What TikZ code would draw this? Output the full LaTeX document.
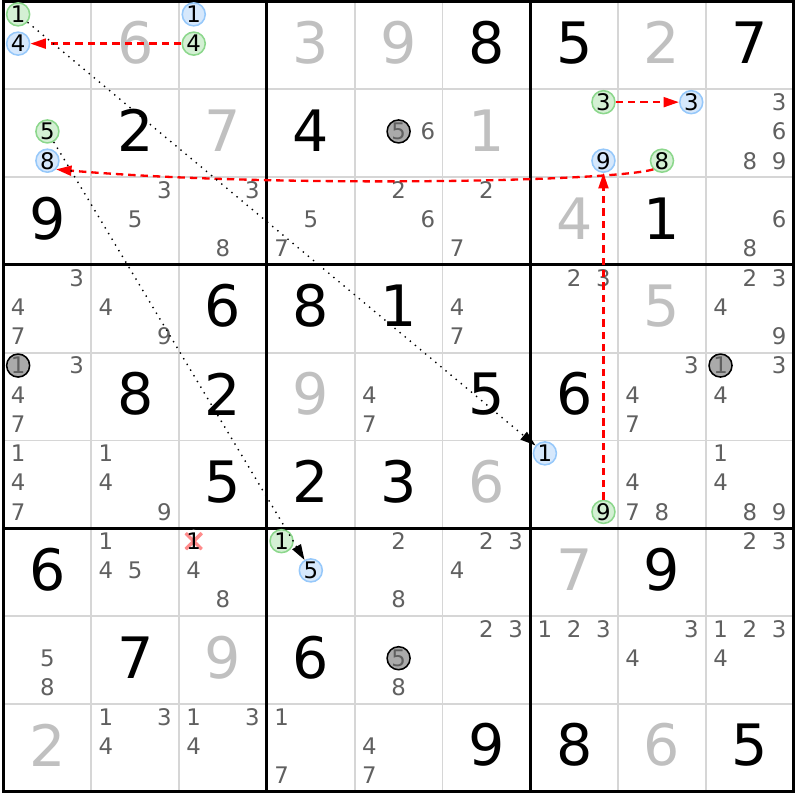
\documentclass[tikz,border=0pt]{standalone}
\usepackage{fontspec}
\setmainfont{DejaVu Sans}
\usetikzlibrary{arrows.meta}
\definecolor{thingrid}{RGB}{214,214,214}
\definecolor{solvedgray}{RGB}{192,192,192}
\definecolor{candgray}{RGB}{96,96,96}
\definecolor{linkgreen}{RGB}{140,215,140}
\definecolor{linkgreenfill}{RGB}{212,240,212}
\definecolor{linkblue}{RGB}{150,200,250}
\definecolor{linkbluefill}{RGB}{214,232,252}
\definecolor{elimfill}{RGB}{170,170,170}
\definecolor{crossred}{RGB}{255,140,140}

% candidate #4 in row #2, column #3
\newcommand{\cand}[4][]{%
  \pgfmathsetmacro{\candx}{#3-1+(2*mod(#4-1,3)+1)/6}%
  \pgfmathsetmacro{\candy}{-(#2-1)-(2*floor((#4-1)/3)+1)/6+0.02}%
  \node[cand,#1] (r#2c#3d#4) at (\candx,\candy) {#4};}

\begin{document}
\begin{tikzpicture}[>={Triangle[length=5pt,width=3.2pt]},
  given/.style={font=\fontsize{18.5}{20}\selectfont, inner sep=0pt},
  solved/.style={given, text=solvedgray},
  cand/.style={circle, inner sep=0pt, minimum size=0.262cm, line width=0.5pt,
    font=\fontsize{7.4}{8}\selectfont, text=candgray},
  chaingreen/.style={draw=linkgreen, fill=linkgreenfill, text=black},
  chainblue/.style={draw=linkblue, fill=linkbluefill, text=black},
  elim/.style={draw=black, fill=elimfill},
  xout/.style={fill=white, text=black, path picture={
    \draw[crossred, line width=1.1pt]
      (path picture bounding box.north west) -- (path picture bounding box.south east)
      (path picture bounding box.north east) -- (path picture bounding box.south west);}},
  stronglink/.style={->, red, line width=0.75pt, dash pattern=on 2.4pt off 1.6pt},
  weaklink/.style={->, black, line width=0.45pt, dash pattern=on 0.45pt off 1.7pt}]
\useasboundingbox (-0.04,0.017) rectangle (9.072,-9.095);

% grid
\foreach \i in {1,2,4,5,7,8} {
  \draw[thingrid, line width=0.6pt] (\i,0) -- (\i,-9);
  \draw[thingrid, line width=0.6pt] (0,-\i) -- (9,-\i);
}
\foreach \i in {3,6} {
  \draw[line width=1pt] (\i,0) -- (\i,-9);
  \draw[line width=1pt] (0,-\i) -- (9,-\i);
}
\draw[line width=1pt] (0,0) rectangle (9,-9);

% givens and solved cells
\foreach \r/\c/\v in {1/6/8,1/7/5,1/9/7,2/2/2,2/4/4,3/1/9,3/8/1,4/3/6,4/4/8,4/5/1,
    5/2/8,5/3/2,5/6/5,5/7/6,6/3/5,6/4/2,6/5/3,7/1/6,7/8/9,8/2/7,8/4/6,9/6/9,9/7/8,9/9/5}
  \node[given] (v\r\c) at (\c-0.5,-\r+0.53) {\v};
\foreach \r/\c/\v in {1/2/6,1/4/3,1/5/9,1/8/2,2/3/7,2/6/1,3/7/4,4/8/5,5/4/9,6/6/6,
    7/7/7,8/3/9,9/1/2,9/8/6}
  \node[solved] (v\r\c) at (\c-0.5,-\r+0.53) {\v};

% pencil marks
\foreach \r/\c/\ds in {2/5/{6},2/9/{3,6,8,9},3/2/{3,5},3/3/{3,8},3/4/{5,7},3/5/{2,6},
    3/6/{2,7},3/9/{6,8},4/1/{3,4,7},4/2/{4,9},4/6/{4,7},4/7/{2,3},4/9/{2,3,4,9},
    5/1/{3,4,7},5/5/{4,7},5/8/{3,4,7},5/9/{3,4},6/1/{1,4,7},6/2/{1,4,9},6/8/{4,7,8},
    6/9/{1,4,8,9},7/2/{1,4,5},7/3/{4,8},7/5/{2,8},7/6/{2,3,4},7/9/{2,3},8/1/{5,8},
    8/5/{8},8/6/{2,3},8/7/{1,2,3},8/8/{3,4},8/9/{1,2,3,4},9/2/{1,3,4},9/3/{1,3,4},
    9/4/{1,7},9/5/{4,7}}
  {\foreach \d in \ds {\cand{\r}{\c}{\d}}}

% chain
\cand[chaingreen]{1}{1}{1}
\cand[chainblue]{1}{1}{4}
\cand[chainblue]{1}{3}{1}
\cand[chaingreen]{1}{3}{4}
\cand[chaingreen]{2}{1}{5}
\cand[chainblue]{2}{1}{8}
\cand[chaingreen]{2}{7}{3}
\cand[chainblue]{2}{7}{9}
\cand[chainblue]{2}{8}{3}
\cand[chaingreen]{2}{8}{8}
\cand[chainblue]{6}{7}{1}
\cand[chaingreen]{6}{7}{9}
\cand[chaingreen]{7}{4}{1}
\cand[chainblue]{7}{4}{5}
\cand[elim]{2}{5}{5}
\cand[elim]{5}{1}{1}
\cand[elim]{5}{9}{1}
\cand[elim]{8}{5}{5}
\cand[xout]{7}{3}{1}

% links
\draw[stronglink] (r1c3d4) -- (r1c1d4);
\draw[stronglink] (r2c7d3) -- (r2c8d3);
\draw[stronglink] (r6c7d9) -- (r2c7d9);
\draw[stronglink] (r2c8d8.225) .. controls (6.9,-2.06) and (3,-2.12) .. (r2c1d8.-45);
\draw[weaklink] (r1c1d1) -- (r6c7d1);
\draw[weaklink] (r2c1d5) -- (r7c4d5);
\end{tikzpicture}
\end{document}
